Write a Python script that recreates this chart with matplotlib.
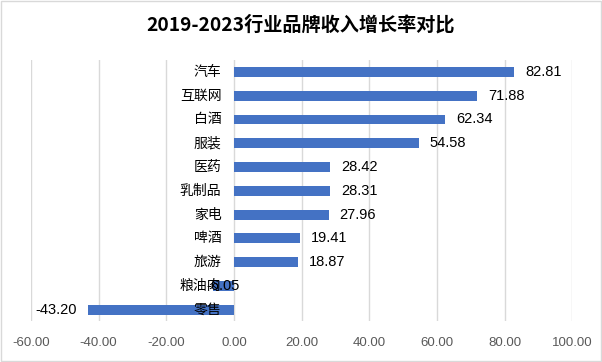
import matplotlib.pyplot as plt
from matplotlib.patches import Rectangle

plt.rcParams['font.family'] = ['Noto Sans CJK SC', 'DejaVu Sans']

# chart data, top to bottom as drawn
categories = ['汽车', '互联网', '白酒', '服装', '医药', '乳制品', '家电', '啤酒', '旅游', '粮油肉', '零售']
values = [82.81, 71.88, 62.34, 54.58, 28.42, 28.31, 27.96, 19.41, 18.87, -6.05, -43.20]
xticks = [-60, -40, -20, 0, 20, 40, 60, 80, 100]
title = '2019-2023行业品牌收入增长率对比'

BAR = '#4472C4'
GRID = '#D9D9D9'
NUMFONT = ['Liberation Sans', 'DejaVu Sans']

fig = plt.figure(figsize=(6.02, 3.62), dpi=100)
fig.patches.append(Rectangle((0.002, 0.003), 0.996, 0.994, transform=fig.transFigure,
                             fill=False, edgecolor='#D9D9D9', linewidth=1))
ax = fig.add_axes([0.0515, 0.112, 0.899, 0.722])

n = len(categories)
ypos = list(range(n))
ax.barh(ypos, values, height=0.42, color=BAR, zorder=2)

ax.set_xlim(xticks[0], xticks[-1])
ax.set_ylim(n - 0.5, -0.5)
ax.set_xticks(xticks)
ax.set_xticklabels(['%.2f' % t for t in xticks], color='#595959', fontsize=9.5, family=NUMFONT)
ax.tick_params(axis='x', length=0, pad=11)
ax.set_yticks([])
ax.grid(axis='x', color=GRID, linewidth=1, zorder=0)
for s in ax.spines.values():
    s.set_visible(False)

# category labels sit next to the zero line, over the bars
for y, c in zip(ypos, categories):
    ax.annotate(c, (0, y), xytext=(-9, 0), textcoords='offset points',
                ha='right', va='center', fontsize=10, zorder=5)

for y, v in zip(ypos, values):
    lab = '%.2f' % v
    if v >= 0:
        ax.annotate(lab, (v, y), xytext=(8, 0), textcoords='offset points',
                    ha='left', va='center', fontsize=10.5, zorder=4, family=NUMFONT)
    elif v > -10:
        ax.annotate(lab, (v, y), xytext=(-5, 0), textcoords='offset points',
                    ha='left', va='center', fontsize=10.5, zorder=4, family=NUMFONT)
    else:
        ax.annotate(lab, (v, y), xytext=(-8, 0), textcoords='offset points',
                    ha='right', va='center', fontsize=10.5, zorder=4, family=NUMFONT)

fig.text(0.5, 0.932, title, ha='center', va='center', fontsize=13.8, fontweight='bold')

fig.savefig('out.png', dpi=100)
